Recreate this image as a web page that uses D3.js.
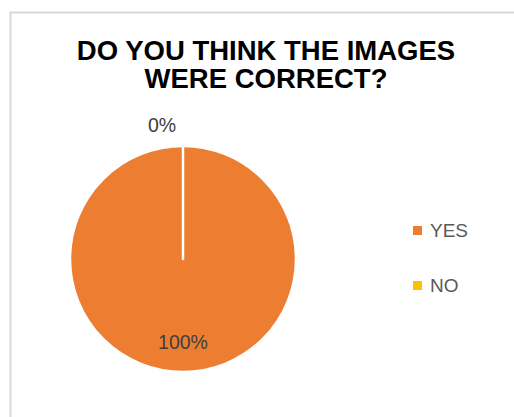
<!DOCTYPE html>
<html>
<head>
<meta charset="utf-8">
<script src="https://cdn.jsdelivr.net/npm/d3@7"></script>
<style>
  html, body { margin: 0; padding: 0; background: #fff; }
  svg { display: block; }
</style>
</head>
<body>
<svg id="chart" width="514" height="417"></svg>
<script>
// Survey answers
const categories = ["YES", "NO"];
const values = [100, 0];
const colors = ["#ED7D31", "#FFC000"];
const titleLines = ["DO YOU THINK THE IMAGES", "WERE CORRECT?"];

const svg = d3.select("#chart");
const W = 514, H = 417;

// Chart area frame (top and left edges visible)
svg.append("rect")
  .attr("x", 10.5).attr("y", 12.5)
  .attr("width", W).attr("height", H)
  .attr("fill", "#fff")
  .attr("stroke", "#D9D9D9")
  .attr("stroke-width", 2);

// Title
const title = svg.append("text")
  .attr("text-anchor", "middle")
  .attr("font-family", "Liberation Sans, Arial, sans-serif")
  .attr("font-weight", "bold")
  .attr("font-size", 27.5)
  .attr("fill", "#000");
titleLines.forEach((t, i) => {
  title.append("tspan").attr("x", 266).attr("y", 60 + i * 28).text(t);
});

// Pie
const cx = 183, cy = 259, r = 113;
const total = d3.sum(values);
const pie = d3.pie().sort(null).value(d => d.value);
const data = pie(categories.map((c, i) => ({ cat: c, value: values[i], color: colors[i] })));
const arc = d3.arc().innerRadius(0).outerRadius(r);

const g = svg.append("g").attr("transform", `translate(${cx},${cy})`);
g.selectAll("path.slice")
  .data(data)
  .join("path")
  .attr("class", "slice")
  .attr("d", arc)
  .attr("fill", d => d.data.color)
  .attr("stroke", "#fff")
  .attr("stroke-width", 2.5)
  .attr("stroke-linejoin", "round");

// Data labels
const fmt = d => Math.round(d.data.value / total * 100) + "%";
const labelFont = "Liberation Sans, Arial, sans-serif";
const yesD = data[0], noD = data[1];
g.append("text")
  .attr("x", 0)
  .attr("y", 90)
  .attr("text-anchor", "middle")
  .attr("font-family", labelFont)
  .attr("font-size", 19.5)
  .attr("fill", "#404040")
  .text(fmt(yesD));
// Zero slice label sits outside the pie, just above its edge
const outA = noD.startAngle;
g.append("text")
  .attr("x", Math.sin(outA) * (r + 14) - 21)
  .attr("y", -Math.cos(outA) * (r + 14))
  .attr("text-anchor", "middle")
  .attr("font-family", labelFont)
  .attr("font-size", 19.5)
  .attr("fill", "#404040")
  .text(fmt(noD));

// Legend
const legend = svg.append("g").attr("transform", "translate(413,230)");
const item = legend.selectAll("g")
  .data(categories.map((c, i) => ({ cat: c, color: colors[i] })))
  .join("g")
  .attr("transform", (d, i) => `translate(0,${i * 55})`);
item.append("rect")
  .attr("x", 0).attr("y", -4)
  .attr("width", 9).attr("height", 9)
  .attr("fill", d => d.color);
item.append("text")
  .attr("x", 17).attr("y", 7)
  .attr("font-family", labelFont)
  .attr("font-size", 19)
  .attr("fill", "#595959")
  .text(d => d.cat);
</script>
</body>
</html>
